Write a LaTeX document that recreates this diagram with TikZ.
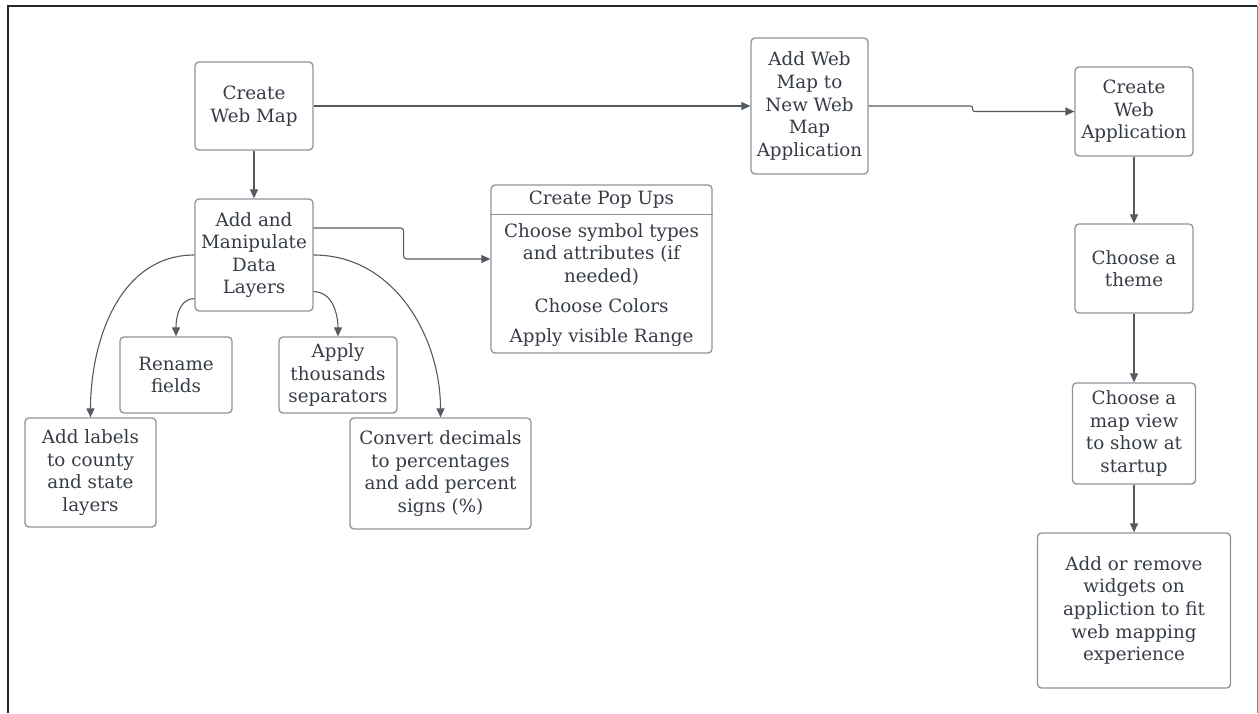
\documentclass[tikz,border=0pt]{standalone}
\usepackage{fontspec}
\setmainfont{DejaVu Serif}
\usetikzlibrary{arrows.meta}
\definecolor{boxline}{HTML}{8E9299}
\definecolor{ink}{HTML}{363C46}
\definecolor{wire}{HTML}{555A62}

\tikzset{
  stepbox/.style={draw=boxline, line width=1.3pt, rounded corners=4pt, align=center,
    text=ink, inner sep=2pt, font=\fontsize{18.3}{22.6}\selectfont},
  steptext/.style={align=center, text=ink, inner sep=0pt, font=\fontsize{18.3}{22.6}\selectfont},
  flow/.style={draw=wire, line width=1.1pt, -{Triangle[length=9pt,width=8pt]}},
}

\begin{document}
\begin{tikzpicture}[x=1pt,y=1pt]
  \useasboundingbox (0,0) rectangle (1258,-713);
  % frame
  \draw[black!85,line width=2pt] (8,-713) -- (8,-6) -- (1257,-6);
  \draw[gray,line width=1pt] (1257,-6) -- (1257,-713);

  % left branch: map and layers
  \node[stepbox,minimum width=118pt,minimum height=88pt] (webmap) at (254,-106) {Create\\Web Map};
  \node[stepbox,minimum width=118pt,minimum height=112pt] (layers) at (254,-255) {Add and\\Manipulate\\Data\\Layers};
  \node[stepbox,minimum width=112pt,minimum height=76pt] (rename) at (176,-375) {Rename\\fields};
  \node[stepbox,minimum width=118pt,minimum height=76pt] (thousands) at (338,-375) {Apply\\thousands\\separators};
  \node[stepbox,minimum width=131pt,minimum height=109pt] (labels) at (90.5,-472.5) {Add labels\\to county\\and state\\layers};
  \node[stepbox,minimum width=181pt,minimum height=111pt] (convert) at (440.5,-473.5) {Convert decimals\\to percentages\\and add percent\\signs (\%)};

  % pop ups
  \node[stepbox,minimum width=221pt,minimum height=168pt] (popups) at (601.5,-269) {};
  \node[steptext] (popuptitle) at (601.5,-200) {Create Pop Ups};
  \draw[boxline,line width=1.3pt] ([yshift=-30pt]popups.north west) -- ([yshift=-30pt]popups.north east);
  \node[steptext] (popupbody) at (601.5,-285) {Choose symbol types\\and attributes (if\\needed)\\[7.5pt]Choose Colors\\[7.5pt]Apply visible Range};
  \coordinate (popin) at ([yshift=10pt]popups.west);

  % right branch: application
  \node[stepbox,minimum width=117pt,minimum height=136pt] (addapp) at (809.5,-106) {Add Web\\Map to\\New Web\\Map\\Application};
  \node[stepbox,minimum width=118pt,minimum height=89pt] (webapp) at (1134,-111.5) {Create\\Web\\Application};
  \node[stepbox,minimum width=118pt,minimum height=89pt] (theme) at (1134,-268.5) {Choose a\\theme};
  \node[stepbox,minimum width=123pt,minimum height=101pt] (mapview) at (1134,-433.5) {Choose a\\map view\\to show at\\startup};
  \node[stepbox,minimum width=193pt,minimum height=155pt] (widgets) at (1134,-610.5) {Add or remove\\widgets on\\appliction to fit\\web mapping\\experience};

  % connectors
  \draw[flow] (webmap.east) -- (addapp.west);
  \draw[flow] (webmap.south) -- (layers.north);
  \draw[flow,rounded corners=3pt] ([yshift=27pt]layers.east) -- ++(90,0) |- (popin);
  \draw[flow] (layers.west) to[out=180,in=90] (labels.north);
  \draw[flow] ([yshift=13pt]layers.south west) to[out=180,in=90] (rename.north);
  \draw[flow] ([yshift=20pt]layers.south east) to[out=0,in=90] (thousands.north);
  \draw[flow] (layers.east) to[out=0,in=90] (convert.north);
  \draw[flow,rounded corners=2pt] (addapp.east) -- ++(104,0) |- (webapp.west);
  \draw[flow] (webapp.south) -- (theme.north);
  \draw[flow] (theme.south) -- (mapview.north);
  \draw[flow] (mapview.south) -- (widgets.north);
\end{tikzpicture}
\end{document}
